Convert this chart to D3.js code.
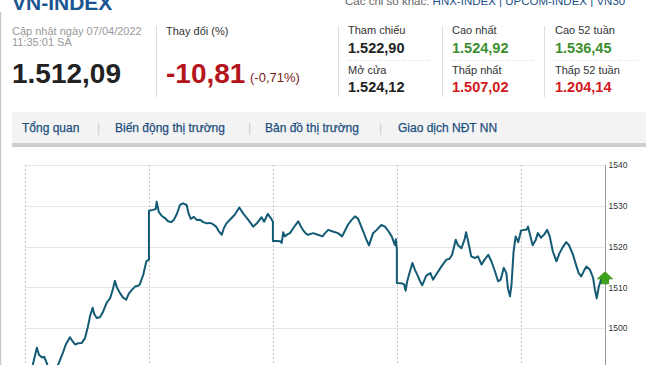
<!DOCTYPE html>
<html>
<head>
<meta charset="utf-8">
<script src="https://cdn.jsdelivr.net/npm/d3@7"></script>
<style>
  html, body { margin: 0; padding: 0; background: #fff; }
  svg { display: block; font-family: "Liberation Sans", Arial, sans-serif; }
</style>
</head>
<body>
<svg id="c" width="650" height="365"></svg>
<script>
// ---------- data ----------
const indexName = "VN-INDEX";
const updatedLine1 = "Cập nhật ngày 07/04/2022";
const updatedLine2 = "11:35:01 SA";
const lastValue = "1.512,09";
const changeLabel = "Thay đổi (%)";
const changeValue = "-10,81";
const changePct = "(-0,71%)";
const otherLabel = "Các chỉ số khác:";
const otherIndices = ["HNX-INDEX", "UPCOM-INDEX", "VN30"];
const statLabels = [["Tham chiếu", "Mở cửa"], ["Cao nhất", "Thấp nhất"], ["Cao 52 tuần", "Thấp 52 tuần"]];
const statValues = [["1.522,90", "1.524,12"], ["1.524,92", "1.507,02"], ["1.536,45", "1.204,14"]];
const statKinds = [["neutral", "neutral"], ["up", "down"], ["up", "down"]];
const tabs = ["Tổng quan", "Biến động thị trường", "Bản đồ thị trường", "Giao dịch NĐT NN"];
const yTicks = [1500, 1510, 1520, 1530, 1540];
const sessionMinutes = 240;
const dayCount = 5;
const lastPrice = 1512.09;

// intraday series: [minute of session, index value]
const day1 = [[0,1486],[8,1488],[15,1491],[23,1495.2],[27,1493.5],[33,1492.8],[37,1493],[42,1491.5],[48,1489],[56,1489.5],[64,1491],[72,1493.5],[79,1496],[87,1497.8],[91,1497],[97,1496],[103,1496.3],[110,1496.4],[116,1497.5],[122,1500.5],[126,1503],[131,1505],[134,1503.5],[139,1502.5],[145,1502.7],[151,1504],[158,1506.2],[165,1507.4],[170,1509.5],[174,1511.6],[178,1510],[184,1508.6],[190,1507.5],[196,1507],[201,1508.5],[207,1509.4],[213,1510.2],[219,1510.4],[222,1510.7],[229,1513.1],[235,1516.4],[240,1516.8]];
const day2 = [[0,1528.8],[8,1529],[13,1529.2],[15,1531],[19,1528.5],[25,1527.5],[31,1527],[37,1526.2],[43,1526],[48,1526.5],[54,1528],[60,1530.2],[66,1530.6],[73,1530.2],[77,1528],[81,1526.8],[87,1527.3],[93,1526.5],[99,1526.6],[105,1526],[112,1525.7],[118,1525.8],[124,1525.5],[130,1524.9],[135,1523.8],[141,1522.9],[145,1524.5],[150,1525.7],[160,1527],[166,1527.8],[175,1529.6],[182,1528.2],[192,1526.6],[202,1524.9],[209,1525.7],[218,1527.2],[223,1526.1],[230,1528],[236,1527],[240,1526.1]];
const day3 = [[0,1521.4],[8,1521.4],[14,1521.3],[17,1520.9],[20,1523.5],[23,1522.5],[28,1523],[33,1523.3],[41,1524.8],[49,1526.2],[54,1525],[58,1524.1],[64,1523.2],[68,1522.9],[78,1523.3],[87,1522.9],[96,1522.5],[101,1523.3],[107,1524.1],[116,1523.7],[126,1523.3],[134,1522.5],[145,1525.3],[152,1526.5],[159,1527.4],[165,1526.8],[175,1523.7],[180,1522],[186,1520.3],[194,1523.3],[201,1524.1],[210,1525.3],[217,1524.9],[224,1523.7],[230,1522.5],[236,1520.4],[238,1521.8],[240,1519.2]];
const day4 = [[0,1511.1],[8,1511],[14,1510.8],[17,1509.2],[20,1511.5],[25,1513.8],[30,1516],[35,1514.3],[41,1512.7],[45,1511.5],[49,1510.5],[57,1512.9],[65,1513.5],[70,1511.9],[76,1513.1],[86,1515.1],[96,1516.8],[102,1517],[107,1518],[114,1521.7],[118,1520.4],[125,1519.6],[131,1521.7],[134,1523.5],[138,1521.3],[144,1517.6],[151,1517.2],[157,1517.6],[164,1515.6],[170,1516.8],[177,1518],[183,1516.4],[190,1513.9],[196,1511.5],[201,1511.9],[207,1514.8],[212,1513.5],[215,1509.8],[219,1507.8],[222,1510.7],[226,1518.8],[230,1522.5],[235,1521.1],[240,1523.7]];
const day5 = [[0,1523.9],[6,1524.1],[11,1524.1],[14,1524.9],[17,1523.3],[23,1520.3],[29,1521.7],[33,1523.3],[39,1522.2],[45,1522.9],[51,1524.1],[56,1522.5],[62,1518.8],[69,1516.4],[75,1518.4],[82,1520],[88,1521.1],[93,1520.4],[101,1518],[108,1515.1],[112,1513.5],[117,1512.7],[122,1514],[127,1515.1],[134,1514.3],[140,1512.3],[143,1509.8],[147,1507.3],[151,1510.2],[156,1512.09]];
const days = [day1, day2, day3, day4, day5];

// ---------- drawing ----------
const svg = d3.select("#c");
const blue = "#1d4f7f";

// page left border
svg.append("line").attr("x1", 0.5).attr("x2", 0.5).attr("y1", 12).attr("y2", 365)
  .attr("stroke", "#c8c8c8").attr("stroke-width", 1.5);

// header
svg.append("text").attr("x", 12).attr("y", 10).attr("font-size", 21).attr("font-weight", "bold")
  .attr("fill", "#1a5592").text(indexName);

const oth = svg.append("text").attr("x", 345).attr("y", 5).attr("font-size", 11.5);
oth.append("tspan").attr("fill", "#666").text(otherLabel + " ");
otherIndices.forEach((n, i) => {
  if (i > 0) oth.append("tspan").attr("fill", "#1c4f86").text("  |  ");
  oth.append("tspan").attr("fill", "#1c4f86").text(n);
});

svg.append("text").attr("x", 12).attr("y", 35).attr("font-size", 11).attr("fill", "#999").text(updatedLine1);
svg.append("text").attr("x", 12).attr("y", 46).attr("font-size", 11).attr("fill", "#999").text(updatedLine2);
svg.append("text").attr("x", 12).attr("y", 83).attr("font-size", 28).attr("font-weight", "bold")
  .attr("fill", "#222").text(lastValue);

// separators
[156, 338, 442, 544].forEach(xx => {
  svg.append("line").attr("x1", xx + 0.5).attr("x2", xx + 0.5).attr("y1", 26).attr("y2", 97)
    .attr("stroke", "#dcdcdc");
});

svg.append("text").attr("x", 166).attr("y", 35).attr("font-size", 11).attr("fill", "#333").text(changeLabel);
svg.append("text").attr("x", 166).attr("y", 83).attr("font-size", 28).attr("font-weight", "bold")
  .attr("fill", "#b4141c").text(changeValue);
svg.append("text").attr("x", 250).attr("y", 82).attr("font-size", 13).attr("fill", "#7c1a1a").text(changePct);

const colX = [348, 452, 555];
const kindColor = { neutral: "#222", up: "#3d8f2f", down: "#d0191b" };
colX.forEach((cx, c) => {
  [0, 1].forEach(r => {
    svg.append("text").attr("x", cx).attr("y", 34 + r * 40).attr("font-size", 11).attr("fill", "#333")
      .text(statLabels[c][r]);
    svg.append("text").attr("x", cx).attr("y", 53 + r * 38.5).attr("font-size", 14.5).attr("font-weight", "bold")
      .attr("fill", kindColor[statKinds[c][r]]).text(statValues[c][r]);
  });
  svg.append("line").attr("x1", cx).attr("x2", cx + 84).attr("y1", 60.5).attr("y2", 60.5)
    .attr("stroke", "#d6d6d6").attr("stroke-dasharray", "1,2");
});

// tab bar
svg.append("rect").attr("x", 12).attr("y", 112).attr("width", 634).attr("height", 31).attr("fill", "#f3f3f3");
svg.append("rect").attr("x", 12).attr("y", 143).attr("width", 634).attr("height", 4).attr("fill", "#cdcdcd");
const tabX = [22, 115, 265, 398];
const sepX = [97, 248, 379];
tabs.forEach((t, i) => {
  svg.append("text").attr("x", tabX[i]).attr("y", 132).attr("font-size", 12).attr("fill", blue)
    .attr("stroke", blue).attr("stroke-width", 0.25).text(t);
});
sepX.forEach(sx => {
  svg.append("text").attr("x", sx).attr("y", 132).attr("font-size", 12).attr("fill", "#ccc").text("|");
});

// chart
const pLeft = 25, pRight = 605, pTop = 165, pBottom = 365;
const x = d3.scaleLinear().domain([0, 1123]).range([pLeft, pRight]);
const y = d3.scaleLinear().domain([1540, 1490]).range([pTop, 369]);

const g = svg.append("g");
// horizontal grid
g.selectAll(".hg").data(yTicks).join("line")
  .attr("x1", pLeft).attr("x2", pRight)
  .attr("y1", d => Math.round(y(d)) + 0.5).attr("y2", d => Math.round(y(d)) + 0.5)
  .attr("stroke", "#e6e6e6");
// vertical day separators
const dayStarts = d3.range(dayCount).map(i => i * sessionMinutes);
g.selectAll(".vg").data(dayStarts).join("line")
  .attr("x1", d => Math.round(x(d)) + 0.5).attr("x2", d => Math.round(x(d)) + 0.5)
  .attr("y1", pTop).attr("y2", pBottom)
  .attr("stroke", "#c4c4c4").attr("stroke-dasharray", "2,2");

// right axis
const axis = d3.axisRight(y).tickValues(yTicks).tickSize(0).tickPadding(3).tickFormat(d3.format("d"));
const ag = svg.append("g").attr("transform", `translate(${pRight + 0.5},0)`).call(axis);
ag.select(".domain").attr("stroke", "#999").attr("d", `M0,${pTop}V${pBottom}`);
ag.selectAll("text").attr("font-family", "'Liberation Sans', Arial, sans-serif")
  .attr("font-size", 8.5).attr("fill", "#333");

// line
const pts = [];
days.forEach((d, i) => d.forEach(p => pts.push([i * sessionMinutes + p[0], p[1]])));
const line = d3.line().x(d => x(d[0])).y(d => y(d[1]));
svg.append("defs").append("clipPath").attr("id", "clip")
  .append("rect").attr("x", pLeft).attr("y", pTop - 5).attr("width", pRight - pLeft + 5).attr("height", pBottom - pTop + 5);
svg.append("path").datum(pts).attr("clip-path", "url(#clip)")
  .attr("d", line).attr("fill", "none").attr("stroke", "#135a74").attr("stroke-width", 2)
  .attr("stroke-linejoin", "round");

// last-price arrow marker
const mx = pRight, my = y(lastPrice);
svg.append("path")
  .attr("d", `M${mx},${my - 7} L${mx + 7.5},${my} L${mx + 3.5},${my} L${mx + 3.5},${my + 5} L${mx - 3.5},${my + 5} L${mx - 3.5},${my} L${mx - 7.5},${my} Z`)
  .attr("fill", "#3fa31b").attr("stroke", "#2e8410").attr("stroke-width", 0.8);
</script>
</body>
</html>
